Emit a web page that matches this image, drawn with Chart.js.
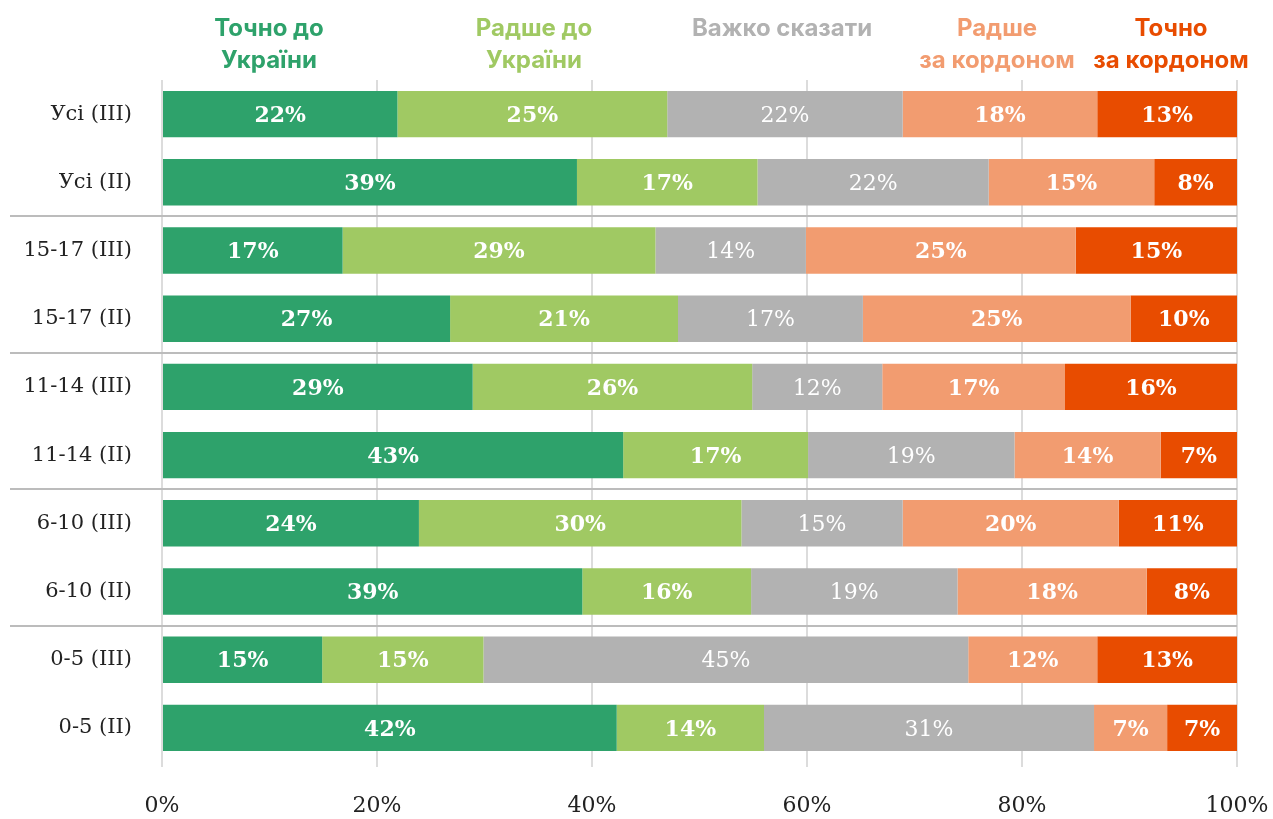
<!DOCTYPE html>
<html>
<head>
<meta charset="utf-8">
<script src="https://cdn.jsdelivr.net/npm/chart.js@4"></script>
<style>
    body { margin: 0; background: #fff; }
    #wrap { position: relative; width: 1273px; height: 819px; }
    .head {
        position: absolute; top: 12px; transform: translateX(-50%);
        font-family: Inter, sans-serif; font-weight: bold; font-size: 24px;
        line-height: 32px; text-align: center; white-space: nowrap;
    }
</style>
</head>
<body>
<div id="wrap">
    <canvas id="chart" width="1273" height="819"></canvas>
</div>
<script>
// Rows, top to bottom
const categories = ["Усі (III)", "Усі (II)", "15-17 (III)", "15-17 (II)", "11-14 (III)",
    "11-14 (II)", "6-10 (III)", "6-10 (II)", "0-5 (III)", "0-5 (II)"];

const seriesNames = ["Точно до\nУкраїни", "Радше до\nУкраїни", "Важко сказати",
    "Радше\nза кордоном", "Точно\nза кордоном"];

const surelyHome   = [21.9, 38.6, 16.8, 26.8, 28.9, 42.9, 23.9, 39.1, 14.9, 42.3];
const ratherHome   = [25.1, 16.8, 29.1, 21.2, 26.0, 17.2, 30.0, 15.7, 15.0, 13.7];
const hardToSay    = [21.9, 21.5, 14.0, 17.2, 12.1, 19.2, 15.0, 19.2, 45.1, 30.7];
const ratherAbroad = [18.1, 15.4, 25.1, 24.9, 17.0, 13.6, 20.1, 17.6, 12.0, 6.8];
const surelyAbroad = [13.0, 7.7, 15.0, 9.9, 16.0, 7.1, 11.0, 8.4, 13.0, 6.5];

const xTicks = [0, 20, 40, 60, 80, 100];

const colors = ["#2ea26b", "#a0c963", "#b2b2b2", "#f29c70", "#e84c00"];
const headX = [269, 534, 782, 997, 1171];

// header texts above the columns
const wrap = document.getElementById("wrap");
seriesNames.forEach((name, i) => {
    const d = document.createElement("div");
    d.className = "head";
    d.style.left = headX[i] + "px";
    d.style.color = colors[i];
    d.innerText = name;
    wrap.appendChild(d);
});

const serif = "'DejaVu Serif', serif";

// white percentage labels in the middle of each segment
const barLabels = {
    id: "barLabels",
    afterDatasetsDraw(chart) {
        const ctx = chart.ctx;
        ctx.save();
        ctx.fillStyle = "#fff";
        ctx.textAlign = "center";
        ctx.textBaseline = "middle";
        chart.data.datasets.forEach((ds, di) => {
            ctx.font = (di === 2 ? "" : "bold ") + "22px " + serif;
            chart.getDatasetMeta(di).data.forEach((bar, i) => {
                const cx = (bar.x + bar.base) / 2;
                ctx.fillText(Math.round(ds.data[i]) + "%", cx, bar.y + 2);
            });
        });
        ctx.restore();
    }
};

// grey lines between the age groups
const groupLines = {
    id: "groupLines",
    afterDraw(chart) {
        const ctx = chart.ctx;
        const y = chart.scales.y;
        ctx.save();
        ctx.strokeStyle = "#bcbcbc";
        ctx.lineWidth = 2;
        [1, 3, 5, 7].forEach(i => {
            const py = Math.round((y.getPixelForValue(i) + y.getPixelForValue(i + 1)) / 2);
            ctx.beginPath();
            ctx.moveTo(10, py);
            ctx.lineTo(chart.chartArea.right, py);
            ctx.stroke();
        });
        ctx.restore();
    }
};

const datasets = [surelyHome, ratherHome, hardToSay, ratherAbroad, surelyAbroad].map((vals, i) => ({
    label: seriesNames[i].replace("\n", " "),
    data: vals,
    backgroundColor: colors[i],
    borderWidth: 0,
    barPercentage: 0.68,
    categoryPercentage: 1
}));

new Chart(document.getElementById("chart"), {
    type: "bar",
    data: { labels: categories, datasets: datasets },
    options: {
        indexAxis: "y",
        responsive: false,
        animation: false,
        layout: { padding: { top: 80, right: 36, left: 0, bottom: 0 } },
        plugins: { legend: { display: false }, tooltip: { enabled: false } },
        scales: {
            x: {
                stacked: true,
                min: 0,
                max: 100,
                afterBuildTicks: axis => { axis.ticks = xTicks.map(v => ({ value: v })); },
                afterFit: axis => {
                    axis.height = 57;
                    axis.paddingRight = 0;
                    axis.paddingLeft = 0;
                },
                grid: { color: "#dcdcdc", lineWidth: 2, tickLength: 5 },
                border: { display: false },
                ticks: {
                    padding: 26,
                    color: "#222",
                    font: { family: serif, size: 22 },
                    callback: v => v + "%"
                }
            },
            y: {
                stacked: true,
                afterFit: axis => { axis.width = 162; },
                grid: { display: false },
                border: { display: false },
                ticks: {
                    padding: 22,
                    color: "#222",
                    font: { family: serif, size: 21 }
                }
            }
        }
    },
    plugins: [barLabels, groupLines]
});
</script>
</body>
</html>
